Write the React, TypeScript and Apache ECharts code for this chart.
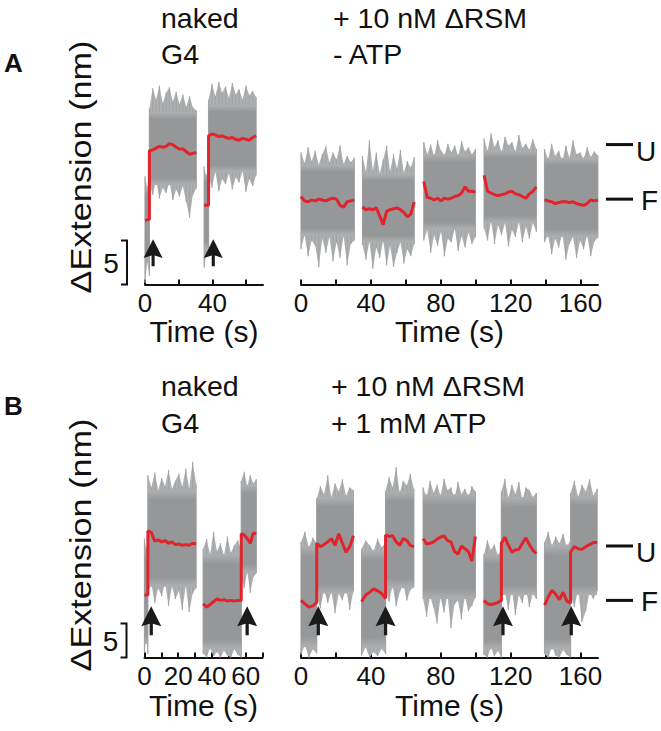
import React, { useEffect, useRef } from 'react';
import * as echarts from 'echarts';

// ---------------- data (nm vs s) ----------------
// Each part: evenly sampled values between t0 and t1.
// red = smoothed trace, hi/lo = outer noise envelope, core = dense band [top, bottom].
// cont = part continues the previous part's trace (step at the boundary).
const A_LEFT_PARTS = [
  { t0: 0, t1: 2.6, red: [7.3, 7.4], hi: [12.3, 11.0, 12.6], lo: [0.2, 2.5, 1.0], core: [11.0, 3.0] },
  { t0: 2.6, t1: 30.4, cont: true,
    red: [15.2, 15.3, 15.5, 15.7, 15.6, 15.7, 16.0, 15.9, 15.6, 15.4, 15.4, 15.1, 14.8, 14.9, 15.0],
    hi: [20.0, 22.3, 21.0, 22.6, 20.6, 21.8, 22.4, 20.8, 21.9, 20.5, 21.6, 20.2, 21.4, 20.1, 19.8],
    lo: [11.5, 10.2, 11.8, 9.8, 11.0, 10.4, 11.6, 9.6, 10.8, 10.0, 11.2, 9.4, 7.6, 10.2, 10.9],
    core: [19.6, 11.3] },
  { t0: 35.1, t1: 37.7, red: [9.0, 9.0], hi: [13.4, 12.2, 13.0], lo: [1.9, 3.5, 4.2], core: [12.5, 4.0] },
  { t0: 37.7, t1: 65.9, cont: true,
    red: [16.9, 17.1, 17.0, 16.8, 16.9, 16.7, 16.6, 16.7, 16.5, 16.4, 16.6, 16.5, 16.4, 16.7, 16.9],
    hi: [21.0, 22.8, 21.4, 23.0, 21.8, 22.5, 21.2, 22.9, 21.6, 22.2, 21.0, 22.6, 21.5, 22.0, 21.3],
    lo: [12.2, 11.0, 12.8, 10.6, 12.0, 11.4, 12.6, 10.8, 12.2, 11.6, 12.9, 10.5, 12.0, 11.2, 12.4],
    core: [20.4, 12.8] },
];

const A_RIGHT_PARTS = [
  { t0: 0, t1: 30.5,
    red: [10.0, 9.5, 9.4, 9.6, 9.5, 9.7, 9.6, 9.5, 9.7, 9.8, 9.7, 9.0, 8.8, 9.4, 9.5, 9.6],
    hi: [15.0, 13.8, 15.6, 14.0, 15.2, 13.6, 14.8, 15.7, 13.9, 15.0, 14.2, 15.8, 13.7, 14.6, 13.9, 14.4],
    lo: [4.0, 5.6, 3.2, 5.0, 4.4, 2.0, 5.2, 3.6, 5.4, 2.6, 4.8, 3.0, 5.5, 2.2, 4.6, 5.0],
    core: [13.6, 5.6] },
  { t0: 35.2, t1: 64.8,
    red: [8.8, 8.5, 8.6, 8.5, 8.7, 7.8, 6.8, 8.3, 8.5, 8.6, 8.7, 8.5, 8.2, 7.7, 8.0, 9.4],
    hi: [14.6, 12.8, 16.4, 13.0, 15.0, 12.6, 14.2, 15.8, 12.9, 14.8, 13.2, 15.3, 12.7, 14.0, 13.3, 14.5],
    lo: [4.5, 2.8, 4.9, 1.8, 4.2, 3.0, 5.0, 2.2, 4.4, 2.0, 3.6, 4.8, 2.4, 4.0, 3.2, 4.6],
    core: [12.6, 4.8] },
  { t0: 70.3, t1: 99.8,
    red: [11.7, 9.9, 9.8, 9.6, 9.8, 9.5, 9.8, 9.7, 9.8, 10.0, 10.1, 10.4, 11.1, 10.6, 10.6, 10.5],
    hi: [16.2, 14.8, 15.9, 14.6, 16.4, 15.2, 14.7, 16.0, 15.0, 15.8, 14.6, 16.3, 15.1, 15.6, 14.8, 15.4],
    lo: [5.0, 6.2, 3.6, 5.6, 4.4, 6.0, 3.2, 5.2, 4.8, 6.3, 3.8, 5.5, 4.2, 5.9, 4.6, 5.4],
    core: [14.8, 6.2] },
  { t0: 104.8, t1: 134.7,
    red: [12.4, 10.6, 10.4, 10.2, 10.1, 10.2, 10.3, 10.5, 10.6, 10.3, 10.2, 10.0, 9.8, 10.3, 10.6, 11.1],
    hi: [16.6, 15.2, 17.2, 15.6, 16.4, 15.0, 16.8, 15.8, 16.2, 15.1, 17.0, 15.5, 16.0, 15.3, 16.5, 15.4],
    lo: [6.4, 5.0, 7.2, 4.6, 6.8, 5.6, 7.0, 4.3, 6.2, 5.4, 7.1, 4.8, 6.6, 5.2, 7.0, 6.0],
    core: [15.2, 7.0] },
  { t0: 139.4, t1: 169.9,
    red: [9.6, 9.5, 9.4, 9.2, 9.3, 9.4, 9.4, 9.3, 9.4, 9.2, 9.1, 9.0, 9.2, 9.6, 9.5, 9.6],
    hi: [15.4, 14.2, 16.0, 14.6, 15.2, 14.0, 15.8, 14.4, 16.4, 14.8, 15.0, 14.3, 15.6, 14.5, 15.1, 14.7],
    lo: [4.8, 5.6, 3.4, 5.2, 4.2, 5.8, 2.8, 4.6, 5.4, 3.0, 5.0, 4.0, 5.6, 3.2, 4.9, 5.3],
    core: [14.4, 5.4] },
];

const B_LEFT_PARTS = [
  { t0: 0, t1: 2, red: [9.2, 9.2], hi: [17.5, 16.0, 17.0], lo: [0.8, 3.0, 0.5], core: [16.0, 2.0] },
  { t0: 2, t1: 30.6, cont: true,
    red: [18.6, 18.4, 17.1, 17.3, 17.0, 17.2, 16.8, 17.0, 16.6, 16.7, 16.5, 16.6, 16.5, 16.8, 16.7],
    hi: [26.8, 25.0, 27.2, 24.6, 26.4, 25.2, 27.6, 24.8, 26.0, 27.0, 25.1, 27.8, 24.9, 28.8, 25.6],
    lo: [9.6, 10.8, 8.0, 10.2, 9.0, 11.0, 7.6, 10.4, 8.6, 9.8, 7.0, 10.6, 6.7, 9.4, 10.2],
    core: [24.6, 10.4] },
  { t0: 34.8, t1: 57.4,
    red: [7.9, 7.4, 7.8, 8.2, 8.6, 8.4, 8.5, 8.3, 8.4, 8.3, 8.4, 8.4],
    hi: [16.0, 17.4, 15.2, 18.5, 15.6, 16.8, 15.0, 17.8, 15.4, 16.5, 17.2, 15.8],
    lo: [0.6, 0.0, 1.4, 0.2, 0.8, 0.0, 1.0, 0.3, 0.0, 1.2, 0.4, 0.0],
    core: [15.2, 1.2] },
  { t0: 57.4, t1: 66.3, cont: true,
    red: [18.2, 18.0, 17.5, 16.8, 18.3, 18.2],
    hi: [26.0, 27.3, 25.2, 26.8, 25.6, 26.2],
    lo: [12.0, 10.2, 12.6, 9.5, 11.8, 12.4],
    core: [25.4, 12.4] },
];

const B_RIGHT_PARTS = [
  { t0: 0, t1: 9, red: [8.4, 7.9, 7.4, 7.6, 8.1], hi: [17.0, 18.5, 16.2, 17.6, 16.8], lo: [0.4, 1.8, 0.0, 1.2, 0.6], core: [16.4, 1.5] },
  { t0: 9, t1: 30, cont: true,
    red: [16.8, 16.3, 16.6, 17.0, 17.5, 16.5, 18.2, 16.8, 15.5, 16.3, 17.9],
    hi: [23.4, 25.2, 24.0, 26.8, 23.6, 25.6, 24.4, 26.2, 23.8, 25.0, 24.6],
    lo: [9.0, 7.2, 10.0, 8.0, 9.6, 6.5, 9.4, 8.4, 10.2, 7.0, 9.8],
    core: [23.6, 9.4] },
  { t0: 34.7, t1: 48.4, red: [8.2, 9.2, 9.6, 10.1, 9.8, 9.4, 8.7], hi: [16.0, 17.2, 16.5, 15.6, 17.5, 16.2, 16.8], lo: [0.3, 1.5, 0.0, 0.8, 0.2, 1.3, 0.5], core: [15.8, 1.5] },
  { t0: 48.4, t1: 64.6, cont: true,
    red: [18.0, 17.8, 17.9, 17.0, 16.5, 17.5, 17.2, 16.5, 16.3],
    hi: [24.5, 26.5, 25.0, 28.0, 24.2, 26.0, 25.3, 27.0, 24.8],
    lo: [10.0, 8.2, 10.6, 7.5, 9.6, 10.8, 8.4, 9.9, 10.4],
    core: [24.4, 10.2] },
  { t0: 69.9, t1: 99.8,
    red: [17.5, 16.7, 16.8, 17.0, 17.4, 17.7, 17.9, 17.2, 17.0, 15.6, 15.2, 16.4, 16.0, 15.6, 14.2, 17.8],
    hi: [25.0, 23.6, 26.0, 24.2, 25.4, 23.8, 26.3, 24.6, 25.0, 23.4, 25.8, 24.0, 24.8, 23.6, 25.2, 24.4],
    lo: [8.6, 6.0, 9.0, 7.4, 5.0, 8.8, 6.6, 9.2, 4.3, 7.8, 8.4, 5.6, 9.0, 6.8, 7.6, 8.8],
    core: [24.0, 8.6] },
  { t0: 104.7, t1: 114.7, red: [8.4, 7.9, 7.8, 7.9, 8.1, 8.4], hi: [15.2, 17.2, 15.8, 16.6, 15.0, 16.0], lo: [0.4, 0.0, 1.5, 0.2, 1.0, 0.0], core: [15.2, 1.2] },
  { t0: 114.7, t1: 134.7, cont: true,
    red: [16.8, 17.7, 16.5, 15.5, 15.8, 15.9, 16.8, 17.6, 16.6, 15.8, 15.3],
    hi: [24.4, 26.3, 23.5, 25.4, 24.0, 25.8, 23.2, 25.0, 24.6, 23.6, 24.2],
    lo: [8.8, 9.6, 7.0, 10.0, 6.2, 9.2, 8.0, 10.2, 7.4, 9.4, 8.6],
    core: [23.6, 9.2] },
  { t0: 139.4, t1: 154.3, red: [7.7, 8.9, 9.9, 9.3, 8.5, 9.6, 8.3, 8.0], hi: [17.0, 18.5, 16.4, 17.8, 16.8, 18.2, 16.2, 17.4], lo: [0.5, 0.0, 1.6, 0.3, 0.0, 1.1, 0.4, 0.0], core: [16.6, 1.2] },
  { t0: 154.3, t1: 169.5, cont: true,
    red: [15.5, 16.3, 16.0, 15.9, 16.3, 16.6, 16.9, 16.9],
    hi: [24.2, 26.0, 23.6, 25.4, 24.4, 26.2, 23.8, 24.8],
    lo: [9.2, 7.4, 10.0, 5.2, 6.8, 9.6, 8.6, 9.8],
    core: [23.8, 9.2] },
];

const A_LEFT_ARROWS = [[4.8, 3.6], [40.5, 3.6]];
const B_LEFT_ARROWS = [[4.0, 5.4], [60.9, 5.4]];
const B_RIGHT_ARROWS = [[9.9, 5.4], [48.4, 5.4], [115.6, 5.4], [154.7, 5.4]];

const A_STATE_LEVELS = [15.9, 9.7];
const B_STATE_LEVELS = [16.4, 8.4];
const STATE_LABELS = ['U', 'F'];
const SCALE_BAR_NM = 5;

const LEFT_TICKS_A = [0, 20, 40, 60];
const LEFT_LABELS_A = [0, 40];
const LEFT_TICKS_B = [0, 10, 20, 30, 40, 50, 60, 70];
const LEFT_LABELS_B = [0, 20, 40, 60];
const RIGHT_TICKS = [0, 20, 40, 60, 80, 100, 120, 140, 160];
const RIGHT_LABELS = [0, 40, 80, 120, 160];

// ---------------- styles ----------------
const FONT = 'Liberation Sans, Arial, Helvetica, sans-serif';
const INK = '#111111';
const RED = '#e3232b';
const CORE_GRAY = '#969798';
const SPIKE_GRAY = '#aeb0b1';
const HAIR_GRAY = '#a2a4a5';
const ARROW_PATH = 'path://M8,0 L16,18 L9.3,15.6 L9.3,26 L6.7,26 L6.7,15.6 L0,18 Z';

type Part = { t0: number; t1: number; cont?: boolean; red: number[]; hi: number[]; lo: number[]; core: number[] };

const at = (p: Part, i: number, n: number) => p.t0 + ((p.t1 - p.t0) * i) / (n - 1);

function coreFill() {
  return new echarts.graphic.LinearGradient(0, 0, 0, 1, [
    { offset: 0, color: SPIKE_GRAY },
    { offset: 0.1, color: CORE_GRAY },
    { offset: 0.9, color: CORE_GRAY },
    { offset: 1, color: SPIKE_GRAY },
  ]);
}

function graySeries(parts: Part[], idx: number) {
  return {
    type: 'custom', xAxisIndex: idx, yAxisIndex: idx, z: 1, clip: false, silent: true,
    data: parts.map((p, k) => [p.t0, p.t1, k]),
    encode: { x: [0, 1] },
    renderItem: (params: any, api: any) => {
      const p = parts[params.dataIndex];
      const pts: number[][] = [];
      p.hi.forEach((v, i) => pts.push(api.coord([at(p, i, p.hi.length), v])));
      for (let i = p.lo.length - 1; i >= 0; i--) pts.push(api.coord([at(p, i, p.lo.length), p.lo[i]]));
      const a = api.coord([p.t0, p.core[0]]);
      const b = api.coord([p.t1, p.core[1]]);
      const hairs: any[] = [];
      p.hi.forEach((v, i) => {
        const top = api.coord([at(p, i, p.hi.length), v]);
        const bot = api.coord([at(p, i, p.lo.length), p.lo[Math.min(i, p.lo.length - 1)]]);
        hairs.push({ type: 'line', shape: { x1: top[0], y1: top[1], x2: bot[0], y2: bot[1] }, style: { stroke: HAIR_GRAY, lineWidth: 1.2 } });
      });
      return {
        type: 'group',
        children: [
          { type: 'polygon', shape: { points: pts }, style: { fill: SPIKE_GRAY } },
          ...hairs,
          { type: 'rect', shape: { x: a[0], y: a[1], width: b[0] - a[0], height: b[1] - a[1] }, style: { fill: coreFill() } },
        ],
      };
    },
  };
}

function redSeries(parts: Part[], idx: number) {
  const segs: number[][][] = [];
  parts.forEach((p) => {
    const pts = p.red.map((v, i) => [at(p, i, p.red.length), v]);
    if (p.cont && segs.length) segs[segs.length - 1].push(...pts);
    else segs.push(pts);
  });
  return segs.map((d) => ({
    type: 'line', xAxisIndex: idx, yAxisIndex: idx, data: d, symbol: 'none', z: 3, silent: true,
    lineStyle: { color: RED, width: 3 },
  }));
}

function arrowSeries(data: number[][], idx: number, size: number[]) {
  return {
    type: 'scatter', xAxisIndex: idx, yAxisIndex: idx, data, symbol: ARROW_PATH, symbolSize: size,
    symbolKeepAspect: false, itemStyle: { color: '#1a1a1a', opacity: 1 }, z: 4, silent: true,
  };
}

function scaleBarSeries(idx: number) {
  return {
    type: 'custom', xAxisIndex: idx, yAxisIndex: idx, z: 4, clip: false, silent: true,
    data: [[0, 0, SCALE_BAR_NM]],
    renderItem: (_p: any, api: any) => {
      const p0 = api.coord([0, 0]);
      const p1 = api.coord([0, SCALE_BAR_NM]);
      const x = p0[0] - 18;
      return {
        type: 'group',
        children: [
          { type: 'polyline', shape: { points: [[x - 6, p1[1]], [x, p1[1]], [x, p0[1]], [x - 6, p0[1]]] }, style: { stroke: INK, lineWidth: 2, fill: null } },
          { type: 'text', x: x - 16, y: (p0[1] + p1[1]) / 2 + 1, style: { text: String(SCALE_BAR_NM), fill: INK, font: `28px ${FONT}`, align: 'center', verticalAlign: 'middle' } },
        ],
      };
    },
  };
}

function stateSeries(levels: number[], idx: number, xmax: number) {
  return {
    type: 'custom', xAxisIndex: idx, yAxisIndex: idx, z: 4, clip: false, silent: true,
    data: levels.map((v, i) => [xmax, v, i]),
    renderItem: (params: any, api: any) => {
      const i = params.dataIndex;
      const c = api.coord([xmax, levels[i]]);
      return {
        type: 'group',
        children: [
          { type: 'line', shape: { x1: c[0] + 8, y1: c[1], x2: c[0] + 35, y2: c[1] }, style: { stroke: INK, lineWidth: 3 } },
          { type: 'text', x: c[0] + (i === 0 ? 38 : 43), y: c[1] + (i === 0 ? 7 : 1), style: { text: STATE_LABELS[i], fill: INK, font: `28px ${FONT}`, align: 'left', verticalAlign: 'middle' } },
        ],
      };
    },
  };
}

function xAxis(idx: number, max: number, ticks: number[], labels: number[], nameGap: number) {
  return {
    type: 'value', gridIndex: idx, min: 0, max,
    name: 'Time (s)', nameLocation: 'middle', nameGap,
    nameTextStyle: { fontSize: 30, color: INK, fontFamily: FONT },
    axisLine: { show: true, lineStyle: { color: INK, width: 2 } },
    axisTick: { show: true, inside: true, length: 5, customValues: ticks, lineStyle: { color: INK, width: 2 } },
    axisLabel: { show: true, customValues: labels, fontSize: 26, color: INK, fontFamily: FONT, margin: 5 },
    splitLine: { show: false },
  };
}

function yAxis(idx: number, max: number) {
  return { type: 'value', gridIndex: idx, min: 0, max, show: false, splitLine: { show: false } };
}

function txt(text: string, x: number, y: number, size: number, bold = false) {
  return { type: 'text', x, y, silent: true, style: { text, fill: INK, font: `${bold ? 'bold ' : ''}${size}px ${FONT}`, align: 'left', verticalAlign: 'middle' } };
}

function vtxt(text: string, x: number, y: number) {
  return { type: 'text', x, y, rotation: Math.PI / 2, scaleX: 1.18, silent: true,
    style: { text, fill: INK, font: `29px ${FONT}`, align: 'center', verticalAlign: 'middle' } };
}

export default function App() {
  const ref = useRef<HTMLDivElement>(null);
  useEffect(() => {
    if (!ref.current) return;
    const chart = echarts.init(ref.current, null, { renderer: 'svg' });
    const option: any = {
      animation: false,
      backgroundColor: '#ffffff',
      grid: [
        { left: 145, top: 64.5, width: 118, height: 220 },
        { left: 301, top: 64.5, width: 297, height: 220 },
        { left: 144.5, top: 453.5, width: 118, height: 204 },
        { left: 301, top: 453.5, width: 297, height: 204 },
      ],
      xAxis: [
        xAxis(0, 70, LEFT_TICKS_A, LEFT_LABELS_A, 31),
        xAxis(1, 170, RIGHT_TICKS, RIGHT_LABELS, 31),
        xAxis(2, 70, LEFT_TICKS_B, LEFT_LABELS_B, 33),
        xAxis(3, 170, RIGHT_TICKS, RIGHT_LABELS, 33),
      ],
      yAxis: [yAxis(0, 25), yAxis(1, 25), yAxis(2, 30), yAxis(3, 30)],
      series: [
        graySeries(A_LEFT_PARTS as Part[], 0),
        graySeries(A_RIGHT_PARTS as Part[], 1),
        graySeries(B_LEFT_PARTS as Part[], 2),
        graySeries(B_RIGHT_PARTS as Part[], 3),
        ...redSeries(A_LEFT_PARTS as Part[], 0),
        ...redSeries(A_RIGHT_PARTS as Part[], 1),
        ...redSeries(B_LEFT_PARTS as Part[], 2),
        ...redSeries(B_RIGHT_PARTS as Part[], 3),
        arrowSeries(A_LEFT_ARROWS, 0, [19, 27]),
        arrowSeries(B_LEFT_ARROWS, 2, [20, 29]),
        arrowSeries(B_RIGHT_ARROWS, 3, [20, 29]),
        scaleBarSeries(0),
        scaleBarSeries(2),
        stateSeries(A_STATE_LEVELS, 1, 170),
        stateSeries(B_STATE_LEVELS, 3, 170),
      ],
      graphic: [
        txt('A', 4, 63, 26, true),
        txt('B', 4, 406, 26, true),
        txt('naked', 161, 18, 28.5),
        txt('G4', 161, 54, 28.5),
        txt('+ 10 nM \u0394RSM', 333, 18, 28.5),
        txt('- ATP', 333, 54, 28.5),
        txt('naked', 161, 386, 28.5),
        txt('G4', 161, 423, 28.5),
        txt('+ 10 nM \u0394RSM', 331, 386, 28.5),
        txt('+ 1 mM ATP', 331, 423, 28.5),
        vtxt('\u0394Extension (nm)', 81, 167),
        vtxt('\u0394Extension (nm)', 81, 545),
      ],
    };
    chart.setOption(option);
    return () => chart.dispose();
  }, []);
  return (
    <div
      ref={ref}
      style={{ position: 'absolute', left: 0, top: 0, width: 661, height: 731, background: '#fff' }}
    />
  );
}
